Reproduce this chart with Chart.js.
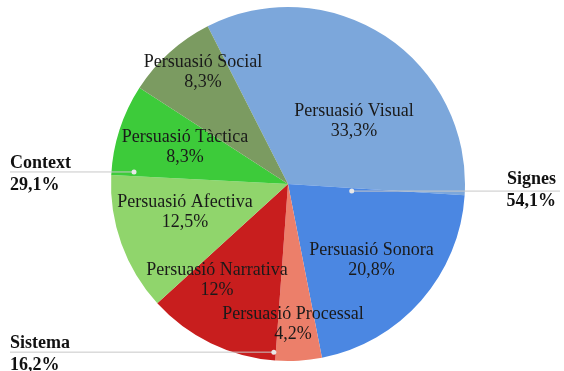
<!DOCTYPE html>
<html>
<head>
<meta charset="utf-8">
<script src="https://cdn.jsdelivr.net/npm/chart.js@4"></script>
<style>
  body { margin: 0; background: #fff; }
</style>
</head>
<body>
<canvas id="myChart" width="564" height="371"></canvas>
<script>
const categories = ["Persuasió Visual", "Persuasió Sonora", "Persuasió Processal", "Persuasió Narrativa", "Persuasió Afectiva", "Persuasió Tàctica", "Persuasió Social"];
const values = [33.3, 20.8, 4.2, 12, 12.5, 8.3, 8.3];
const valueLabels = ["33,3%", "20,8%", "4,2%", "12%", "12,5%", "8,3%", "8,3%"];
const colors = ["#7CA7DB", "#4B87E2", "#EC7F6A", "#C81E1E", "#90D56C", "#3DCB3A", "#7B9B61"];

const groups = ["Signes", "Context", "Sistema"];
const groupLabels = ["54,1%", "29,1%", "16,2%"];

// label spots, as fractions of the radius from the centre
const labelSpots = [[0.373, -0.356], [0.472, 0.432], [0.028, 0.794], [-0.401, 0.542], [-0.582, 0.161], [-0.582, -0.206], [-0.48, -0.63]];
const groupDots = [[0.36, 0.04], [-0.87, -0.068], [-0.08, 0.95]];
const groupShift = [-3, 0, 0];

const labelPlugin = {
  id: "labels",
  afterDraw(chart) {
    const c = chart.ctx;
    const arc = chart.getDatasetMeta(0).data[0];
    const cx = arc.x, cy = arc.y, r = arc.outerRadius;
    c.save();
    c.fillStyle = "#1a1a1a";
    c.font = "18px 'Liberation Serif'";
    c.textAlign = "center";
    c.textBaseline = "middle";
    labelSpots.forEach((p, i) => {
      const x = cx + p[0] * r, y = cy + p[1] * r;
      c.fillText(categories[i], x, y - 10);
      c.fillText(valueLabels[i], x, y + 10);
    });

    // group call-outs
    c.strokeStyle = "#c8c8c8";
    c.lineWidth = 1;
    c.font = "bold 18px 'Liberation Serif'";
    groups.forEach((g, i) => {
      const dx = cx + groupDots[i][0] * r, dy = cy + groupDots[i][1] * r;
      const right = i === 0;
      const endX = right ? 560 : 10;
      c.beginPath();
      c.moveTo(dx, dy);
      c.lineTo(endX, dy);
      c.stroke();
      c.beginPath();
      c.fillStyle = "#e8e8e8";
      c.arc(dx, dy, 2.5, 0, Math.PI * 2);
      c.fill();
      c.fillStyle = "#111";
      c.textAlign = right ? "right" : "left";
      const tx = right ? 556 : 10;
      c.fillText(g, tx, dy - 9 + groupShift[i]);
      c.fillText(groupLabels[i], tx, dy + 13 + groupShift[i]);
    });
    c.restore();
  }
};

const ctx = document.getElementById("myChart");
new Chart(ctx, {
  type: "pie",
  data: {
    labels: categories,
    datasets: [{
      data: values,
      backgroundColor: colors,
      borderWidth: 0,
    }],
  },
  options: {
    responsive: false,
    animation: false,
    rotation: -27,
    layout: { padding: { top: 7, bottom: 10, left: 12, right: 0 } },
    plugins: {
      legend: { display: false },
      tooltip: { enabled: false },
    },
  },
  plugins: [labelPlugin],
});
</script>
</body>
</html>
